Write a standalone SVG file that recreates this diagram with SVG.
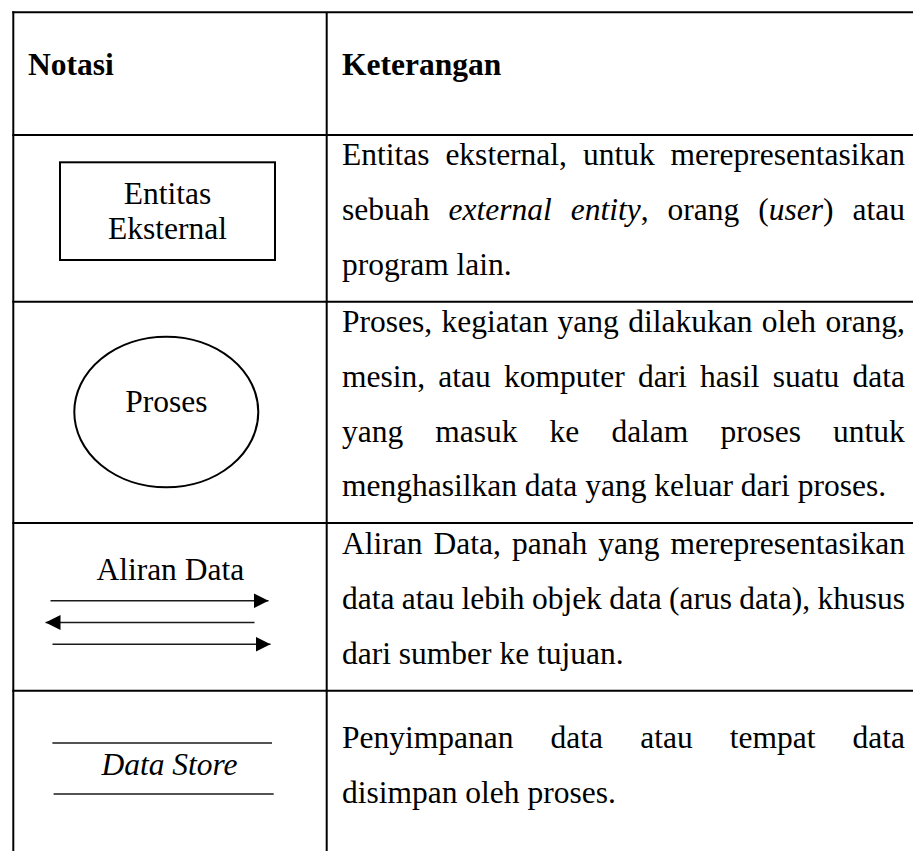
<svg xmlns="http://www.w3.org/2000/svg" width="913" height="851" viewBox="0 0 913 851">
  <style>
    text { font-family: "Liberation Serif", "Times New Roman", serif; font-size: 31.5px; fill: #000; }
    .b { font-weight: bold; }
    .i { font-style: italic; }
    .mid { text-anchor: middle; }
    .grid { stroke: #000; stroke-width: 2; fill: none; }
    .shape { stroke: #000; stroke-width: 2; fill: none; }
    .thin { stroke: #1a1a1a; stroke-width: 1.4; fill: none; }
  </style>
  <defs>
    <marker id="head" viewBox="0 0 15 15" refX="15" refY="7.5" markerWidth="15" markerHeight="15" markerUnits="userSpaceOnUse" orient="auto">
      <path d="M0,0 L15,7.5 L0,15 Z" fill="#000"/>
    </marker>
  </defs>

  <rect width="913" height="851" fill="#fff"/>

  <!-- table grid -->
  <g id="table" class="grid">
    <line x1="12.3" y1="12.3" x2="913" y2="12.3"/>
    <line x1="13.3" y1="11.3" x2="13.3" y2="851"/>
    <line x1="326.7" y1="12.3" x2="326.7" y2="851"/>
    <line x1="12.3" y1="135" x2="913" y2="135"/>
    <line x1="12.3" y1="301.7" x2="913" y2="301.7"/>
    <line x1="12.3" y1="523" x2="913" y2="523"/>
    <line x1="12.3" y1="690.7" x2="913" y2="690.7"/>
  </g>

  <!-- header row -->
  <g id="header">
    <text class="b" x="28" y="74.5">Notasi</text>
    <text class="b" x="342" y="74.5">Keterangan</text>
  </g>

  <!-- external entity -->
  <g id="entitas-eksternal">
    <rect class="shape" x="60" y="162.3" width="215" height="97.7"/>
    <text class="mid" x="167.5" y="203.5">Entitas</text>
    <text class="mid" x="167.5" y="239">Eksternal</text>
  </g>
  <g id="entitas-keterangan">
    <text y="165"><tspan x="342">Entitas</tspan><tspan x="445.4">eksternal,</tspan><tspan x="582.9">untuk</tspan><tspan x="670.6">merepresentasikan</tspan></text>
    <text y="220"><tspan x="342">sebuah</tspan><tspan x="448.5" class="i">external</tspan><tspan x="570.7" class="i">entity</tspan><tspan>,</tspan><tspan x="667.6">orang</tspan><tspan x="758.3">(</tspan><tspan class="i">user</tspan><tspan>)</tspan><tspan x="852.5">atau</tspan></text>
    <text x="342" y="275">program lain.</text>
  </g>

  <!-- process -->
  <g id="proses">
    <ellipse class="shape" cx="166.3" cy="412" rx="92" ry="75.3"/>
    <text class="mid" x="166.3" y="412.3">Proses</text>
  </g>
  <g id="proses-keterangan">
    <text y="331.7"><tspan x="342">Proses,</tspan><tspan x="441.5">kegiatan</tspan><tspan x="557.6">yang</tspan><tspan x="628.2">dilakukan</tspan><tspan x="761.8">oleh</tspan><tspan x="825.4">orang,</tspan></text>
    <text y="386.5"><tspan x="342">mesin,</tspan><tspan x="438.3">atau</tspan><tspan x="504">komputer</tspan><tspan x="637.9">dari</tspan><tspan x="700.1">hasil</tspan><tspan x="772.8">suatu</tspan><tspan x="852.5">data</tspan></text>
    <text y="441.5"><tspan x="342">yang</tspan><tspan x="435.3">masuk</tspan><tspan x="549.6">ke</tspan><tspan x="611.4">dalam</tspan><tspan x="720.5">proses</tspan><tspan x="833.1">untuk</tspan></text>
    <text x="342" y="496.3">menghasilkan data yang keluar dari proses.</text>
  </g>

  <!-- data flow -->
  <g id="aliran-data">
    <text class="mid" x="170.3" y="580">Aliran Data</text>
  </g>
  <g id="connectors" class="thin">
    <line x1="50.5" y1="600.8" x2="268.5" y2="600.8" marker-end="url(#head)"/>
    <line x1="254.5" y1="622.5" x2="45.5" y2="622.5" marker-end="url(#head)"/>
    <line x1="52.5" y1="644.2" x2="270.5" y2="644.2" marker-end="url(#head)"/>
  </g>
  <g id="aliran-keterangan">
    <text y="553.5"><tspan x="342">Aliran</tspan><tspan x="433.6">Data,</tspan><tspan x="512">panah</tspan><tspan x="598.3">yang</tspan><tspan x="670.6">merepresentasikan</tspan></text>
    <text y="608.5"><tspan x="342">data</tspan><tspan x="401.8">atau</tspan><tspan x="461.6">lebih</tspan><tspan x="531.9">objek</tspan><tspan x="609.2">data</tspan><tspan x="669">(arus</tspan><tspan x="739.3">data),</tspan><tspan x="817.4">khusus</tspan></text>
    <text x="342" y="663.5">dari sumber ke tujuan.</text>
  </g>

  <!-- data store -->
  <g id="data-store">
    <line class="thin" x1="52.4" y1="743" x2="272" y2="743"/>
    <text class="mid i" x="169.5" y="775">Data Store</text>
    <line class="thin" x1="53.6" y1="794" x2="273.7" y2="794"/>
  </g>
  <g id="data-store-keterangan">
    <text y="748"><tspan x="342">Penyimpanan</tspan><tspan x="550.6">data</tspan><tspan x="640.2">atau</tspan><tspan x="729.8">tempat</tspan><tspan x="852.6">data</tspan></text>
    <text x="342" y="802.5">disimpan oleh proses.</text>
  </g>
</svg>
